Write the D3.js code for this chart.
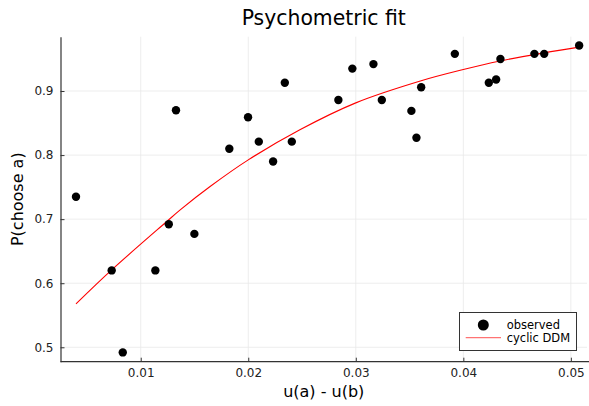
<!DOCTYPE html>
<html>
<head>
<meta charset="utf-8">
<script src="https://cdn.jsdelivr.net/npm/d3@7/dist/d3.min.js"></script>
<style>
  html, body { margin: 0; padding: 0; background: #fff; }
  svg { display: block; font-family: "DejaVu Sans", sans-serif; }
</style>
</head>
<body>
<svg id="chart" width="589" height="406"></svg>
<script>
// Observed choice proportions
const obsX = [0.00398, 0.00730, 0.00833, 0.01136, 0.01261, 0.01328, 0.01499, 0.01824,
              0.01998, 0.02098, 0.02231, 0.02340, 0.02405, 0.02838, 0.02968, 0.03164,
              0.03242, 0.03517, 0.03564, 0.03608, 0.03921, 0.04237, 0.04305, 0.04345,
              0.04661, 0.04752, 0.05077];
const obsY = [0.735, 0.620, 0.492, 0.620, 0.692, 0.870, 0.677, 0.810,
              0.859, 0.821, 0.790, 0.913, 0.821, 0.886, 0.935, 0.942,
              0.886, 0.869, 0.827, 0.906, 0.958, 0.913, 0.918, 0.950,
              0.958, 0.958, 0.971];

// Model prediction (cyclic DDM)
const fitX = [0.00398, 0.00730, 0.01242, 0.01367, 0.01645, 0.02000, 0.02480,
              0.03000, 0.03608, 0.04000, 0.04330, 0.04750, 0.05077];
const fitY = [0.5677, 0.6208, 0.6963, 0.7145, 0.7509, 0.7925, 0.8395,
              0.8815, 0.9160, 0.9335, 0.9465, 0.9595, 0.9685];

const xTicks = [0.01, 0.02, 0.03, 0.04, 0.05];
const yTicks = [0.5, 0.6, 0.7, 0.8, 0.9];
const xTickLabels = ["0.01", "0.02", "0.03", "0.04", "0.05"];
const yTickLabels = ["0.5", "0.6", "0.7", "0.8", "0.9"];

const titleText = "Psychometric fit";
const xLabel = "u(a) - u(b)";
const yLabel = "P(choose a)";
const legendLabels = ["observed", "cyclic DDM"];

const svg = d3.select("#chart");
const plot = { left: 60.5, right: 587, top: 36.7, bottom: 361.7 };

const x = d3.scaleLinear().domain([0.00254, 0.0515]).range([plot.left, plot.right]);
const y = d3.scaleLinear().domain([0.4775, 0.9848]).range([plot.bottom, plot.top]);

// Grid
const grid = svg.append("g").attr("stroke", "#e8e8e8").attr("stroke-width", 0.8);
grid.selectAll("line.gx").data(xTicks).join("line")
  .attr("x1", d => x(d)).attr("x2", d => x(d))
  .attr("y1", plot.top).attr("y2", plot.bottom);
grid.selectAll("line.gy").data(yTicks).join("line")
  .attr("x1", plot.left).attr("x2", plot.right)
  .attr("y1", d => y(d)).attr("y2", d => y(d));

// Axes
const xAxis = d3.axisBottom(x).tickValues(xTicks)
  .tickFormat((d, i) => xTickLabels[i]).tickSizeInner(-4).tickSizeOuter(0).tickPadding(6.5);
const yAxis = d3.axisLeft(y).tickValues(yTicks)
  .tickFormat((d, i) => yTickLabels[i]).tickSizeInner(-4).tickSizeOuter(0).tickPadding(7);

const gx = svg.append("g").attr("transform", `translate(0,${plot.bottom})`).call(xAxis);
const gy = svg.append("g").attr("transform", `translate(${plot.left},0)`).call(yAxis);
[gx, gy].forEach(g => {
  g.select(".domain").attr("stroke", "#333").attr("stroke-width", 1.2);
  g.selectAll(".tick line").attr("stroke", "#333");
  g.selectAll(".tick text").attr("fill", "#222").attr("font-size", 12)
    .attr("font-family", "DejaVu Sans, sans-serif");
});
gx.select(".domain").attr("d", `M${plot.left},0H589`);

// Fit curve
const line = d3.line().x(d => x(d[0])).y(d => y(d[1])).curve(d3.curveCatmullRom.alpha(0.5));
svg.append("path")
  .datum(d3.zip(fitX, fitY))
  .attr("fill", "none").attr("stroke", "#ff0000").attr("stroke-width", 1.1)
  .attr("d", line);

// Observed points
svg.append("g").selectAll("circle").data(d3.zip(obsX, obsY)).join("circle")
  .attr("cx", d => x(d[0])).attr("cy", d => y(d[1])).attr("r", 4.2)
  .attr("fill", "#000");

// Title and axis labels
svg.append("text").attr("x", (plot.left + plot.right) / 2).attr("y", 25)
  .attr("text-anchor", "middle").attr("font-size", 20.4).attr("fill", "#000").text(titleText);
svg.append("text").attr("x", (plot.left + plot.right) / 2).attr("y", 396.5)
  .attr("text-anchor", "middle").attr("font-size", 16).attr("fill", "#000").text(xLabel);
svg.append("text").attr("transform", `translate(22.5,${(plot.top + plot.bottom) / 2}) rotate(-90)`)
  .attr("text-anchor", "middle").attr("font-size", 16).attr("fill", "#000").text(yLabel);

// Legend
const lg = svg.append("g");
lg.append("rect").attr("x", 459.5).attr("y", 312.5).attr("width", 117).attr("height", 38)
  .attr("fill", "#fff").attr("stroke", "#333").attr("stroke-width", 1);
lg.append("circle").attr("cx", 483.3).attr("cy", 325).attr("r", 5.5).attr("fill", "#000");
lg.append("line").attr("x1", 465.7).attr("x2", 501).attr("y1", 337.7).attr("y2", 337.7)
  .attr("stroke", "#ff0000").attr("stroke-opacity", 0.55).attr("stroke-width", 1.3);
lg.selectAll("text").data(legendLabels).join("text")
  .attr("x", 506.7).attr("y", (d, i) => 329 + i * 13)
  .attr("font-size", 11.5).attr("fill", "#000").text(d => d);
</script>
</body>
</html>
